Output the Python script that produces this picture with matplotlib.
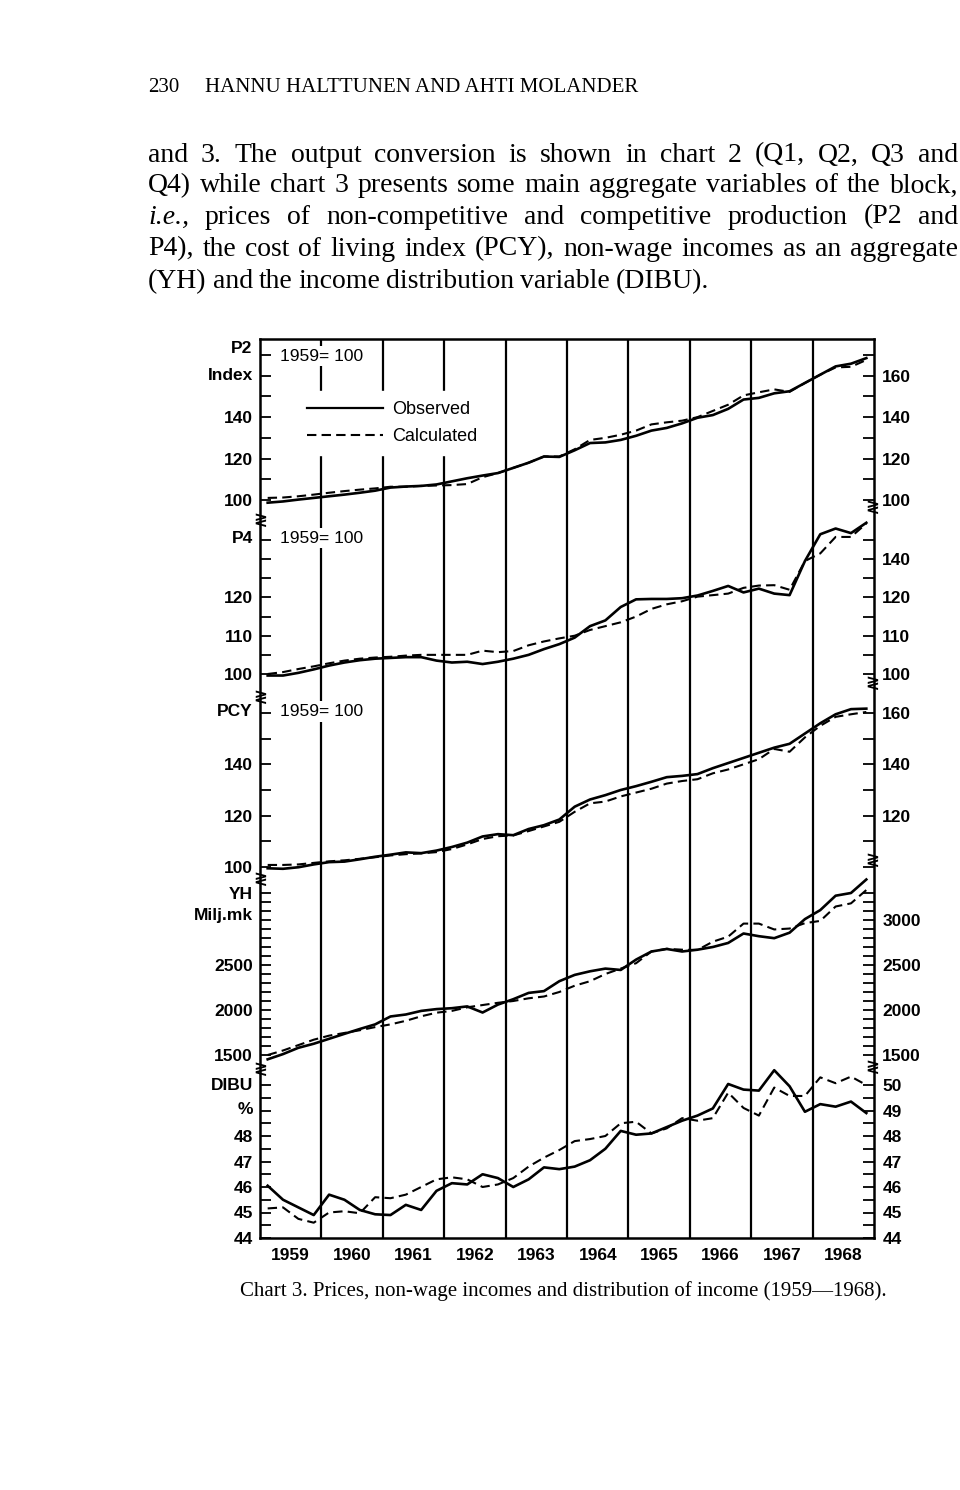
import matplotlib.pyplot as plt
from matplotlib.lines import Line2D
import numpy as np

# quarterly data 1959Q1 .. 1968Q4
years = [1959, 1960, 1961, 1962, 1963, 1964, 1965, 1966, 1967, 1968]
quarters = [y + (q + 0.5) / 4 for y in years for q in range(4)]

p2_obs = [98.7, 99.3, 100.2, 101.0, 101.8, 102.6, 103.5, 104.5, 106.0, 106.5,
          106.8, 107.5, 109.0, 110.5, 111.8, 113.0, 115.5, 118.0, 121.0, 120.8,
          124.0, 127.5, 127.8, 129.0, 131.0, 133.5, 134.8, 137.0, 139.7, 141.0,
          144.0, 148.5, 149.3, 151.5, 152.5, 156.5, 160.5, 164.5, 165.8, 168.5]
p2_calc = [101.0, 101.2, 101.8, 102.6, 103.5, 104.3, 105.0, 105.6, 106.4, 106.4,
           106.8, 107.0, 107.2, 107.7, 111.0, 113.0, 115.5, 118.0, 121.0, 121.0,
           124.5, 129.0, 130.0, 131.5, 133.5, 136.5, 137.5, 138.3, 140.0, 143.0,
           146.0, 150.5, 152.0, 153.4, 152.2, 156.5, 160.5, 164.0, 164.3, 167.6]

p4_obs = [99.6, 99.6, 100.3, 101.2, 102.2, 103.0, 103.6, 104.0, 104.2, 104.4,
          104.4, 103.5, 103.0, 103.2, 102.6, 103.2, 104.0, 105.0, 106.5, 107.8,
          109.5, 112.5, 114.0, 117.5, 119.5, 119.6, 119.6, 119.8, 120.5, 121.7,
          123.0, 121.3, 122.3, 121.0, 120.6, 129.5, 136.5, 138.0, 136.8, 139.5]
p4_calc = [100.0, 100.5, 101.3, 102.0, 102.8, 103.5, 104.0, 104.3, 104.5, 104.8,
           105.0, 105.0, 105.0, 105.0, 106.1, 105.7, 106.0, 107.5, 108.5, 109.3,
           110.0, 111.5, 112.5, 113.5, 115.0, 117.0, 118.2, 119.0, 120.2, 120.6,
           121.0, 122.5, 123.1, 123.2, 122.0, 129.5, 131.5, 135.8, 135.8, 139.3]

pcy_obs = [99.5, 99.3, 99.9, 101.0, 101.9, 102.1, 103.0, 104.0, 104.8, 105.7,
           105.4, 106.4, 107.8, 109.5, 111.9, 112.8, 112.4, 114.8, 116.3, 118.5,
           123.5, 126.3, 128.0, 130.0, 131.5, 133.2, 135.0, 135.5, 136.2, 138.5,
           140.5, 142.5, 144.5, 146.5, 148.0, 152.0, 156.0, 159.5, 161.5, 161.7]
pcy_calc = [100.8, 100.8, 101.0, 101.6, 102.2, 102.6, 103.2, 103.8, 104.5, 105.0,
            105.3, 105.8, 107.0, 108.8, 110.9, 112.0, 112.3, 114.0, 115.8, 117.6,
            121.5, 124.8, 125.5, 127.5, 129.0, 130.5, 132.5, 133.5, 134.2, 136.5,
            138.0, 140.0, 142.0, 146.0, 144.9, 150.5, 155.0, 158.5, 159.5, 160.4]

yh_obs = [1452, 1510, 1580, 1625, 1680, 1735, 1789, 1840, 1928, 1950,
          1990, 2010, 2020, 2040, 1972, 2060, 2120, 2190, 2210, 2320,
          2390, 2430, 2460, 2445, 2560, 2650, 2678, 2650, 2670, 2700,
          2745, 2850, 2820, 2798, 2859, 3010, 3110, 3270, 3300, 3450]
yh_calc = [1500, 1550, 1610, 1670, 1715, 1745, 1775, 1810, 1840, 1880,
           1930, 1970, 1990, 2030, 2055, 2080, 2100, 2130, 2150, 2200,
           2270, 2320, 2400, 2460, 2520, 2650, 2680, 2670, 2667, 2759,
           2815, 2960, 2960, 2895, 2905, 2965, 2990, 3150, 3185, 3333]

dibu_obs = [46.05, 45.5, 45.2, 44.9, 45.7, 45.5, 45.1, 44.93, 44.9, 45.3,
            45.1, 45.85, 46.15, 46.1, 46.5, 46.35, 46.0, 46.3, 46.77, 46.7,
            46.8, 47.05, 47.5, 48.2, 48.05, 48.1, 48.35, 48.6, 48.8, 49.08,
            50.04, 49.82, 49.78, 50.58, 49.95, 48.95, 49.25, 49.15, 49.35, 48.9]
dibu_calc = [45.16, 45.2, 44.75, 44.6, 45.0, 45.05, 44.97, 45.6, 45.56, 45.7,
             46.0, 46.3, 46.38, 46.3, 46.0, 46.1, 46.35, 46.8, 47.15, 47.45,
             47.8, 47.88, 48.0, 48.5, 48.56, 48.1, 48.3, 48.7, 48.6, 48.7,
             49.7, 49.1, 48.8, 49.9, 49.57, 49.57, 50.3, 50.07, 50.33, 50.0]

W, H = 960, 1490
fig = plt.figure(figsize=(W / 100, H / 100), dpi=100)
SANS = "Liberation Sans"
SERIF = "Liberation Serif"
TICKFONT = dict(family=SANS, weight="bold", size=12.5)


def px_axes(x0, y0, x1, y1):
    return fig.add_axes([x0 / W, 1 - y1 / H, (x1 - x0) / W, (y1 - y0) / H])


X0, X1 = 260, 874

# outer frame with year grid
frame = px_axes(X0, 339, X1, 1238)
frame.set_xlim(1959, 1969)
frame.set_ylim(0, 1)
frame.set_yticks([])
frame.set_xticks([y + 0.5 for y in years], [str(y) for y in years])
frame.tick_params(axis="x", length=0, pad=7)
for lab in frame.get_xticklabels():
    lab.set(**TICKFONT)
for y in years[1:]:
    frame.axvline(y, color="black", lw=1.6)
for s in frame.spines.values():
    s.set_linewidth(1.8)


def panel(top, bottom, lo, hi, obs, calc, lticks, llabels, rticks, rlabels):
    ax = px_axes(X0, top, X1, bottom)
    ax.patch.set_alpha(0)
    ax.set_xlim(1959, 1969)
    ax.set_ylim(lo, hi)
    for s in ax.spines.values():
        s.set_visible(False)
    ax.set_xticks([])
    ax.set_yticks(lticks, llabels)
    ax.tick_params(axis="y", direction="in", length=8, width=1.3, pad=5)
    for lab in ax.get_yticklabels():
        lab.set(**TICKFONT)
    sec = ax.secondary_yaxis("right")
    sec.spines["right"].set_visible(False)
    sec.set_yticks(rticks, rlabels)
    sec.tick_params(axis="y", direction="in", length=8, width=1.3, pad=6)
    for lab in sec.get_yticklabels():
        lab.set(**TICKFONT)
    ax.plot(quarters, obs, color="black", lw=1.9, clip_on=False)
    ax.plot(quarters, calc, color="black", lw=1.5, ls=(0, (4.5, 2.5)), clip_on=False)
    return ax


def lab(vals, shown):
    return [str(v) if v in shown else "" for v in vals]


def side_text(ax, y, s):
    ax.text(-0.012, y, s, transform=ax.get_yaxis_transform(), ha="right",
            va="center", **TICKFONT)


def base_text(ax, y):
    ax.text(0.033, y, "1959= 100", transform=ax.get_yaxis_transform(), ha="left",
            va="center", family=SANS, size=12.5,
            bbox=dict(facecolor="white", edgecolor="none", pad=2))


t = list(range(100, 171, 10))
ax_p2 = panel(355, 500, 100, 170, p2_obs, p2_calc, t, lab(t, [100, 120, 140]),
              t, lab(t, [100, 120, 140, 160]))
side_text(ax_p2, 173, "P2")
side_text(ax_p2, 160, "Index")
base_text(ax_p2, 169.5)
handles = [Line2D([], [], color="black", lw=1.6),
           Line2D([], [], color="black", lw=1.5, ls=(0, (4.5, 2.5)))]
leg = ax_p2.legend(handles, ["Observed", "Calculated"], loc="upper left",
                   bbox_to_anchor=(288 / W, 1 - 382 / H),
                   bbox_transform=fig.transFigure, frameon=True, fancybox=False,
                   framealpha=1, edgecolor="white", handlelength=4.2,
                   handletextpad=0.5, labelspacing=0.55, borderpad=0.55,
                   prop=dict(family=SANS, size=13))

t = list(range(100, 136, 5))
rl = ["100", "", "110", "", "120", "", "140", ""]
ax_p4 = panel(540, 674, 100, 135, p4_obs, p4_calc, t, lab(t, [100, 110, 120]), t, rl)
side_text(ax_p4, 135.5, "P4")
base_text(ax_p4, 135.5)

t = list(range(100, 161, 10))
ax_pcy = panel(713, 867, 100, 160, pcy_obs, pcy_calc, t, lab(t, [100, 120, 140]),
               t, lab(t, [120, 140, 160]))
side_text(ax_pcy, 160.5, "PCY")
base_text(ax_pcy, 160.5)

t = list(range(1500, 3301, 100))
ax_yh = panel(893, 1055, 1500, 3300, yh_obs, yh_calc, t, lab(t, [1500, 2000, 2500]),
              t, lab(t, [1500, 2000, 2500, 3000]))
side_text(ax_yh, 3280, "YH")
side_text(ax_yh, 3045, "Milj.mk")

t = [44 + 0.5 * k for k in range(13)]
ax_dibu = panel(1085, 1238, 44, 50, dibu_obs, dibu_calc, t,
                [str(int(v)) if v in (44, 45, 46, 47, 48) else "" for v in t],
                t, [str(int(v)) if v == int(v) else "" for v in t])
side_text(ax_dibu, 49.97, "DIBU")
side_text(ax_dibu, 49.05, "%")

# scale-break marks on the two axes
for xp, yp in [(X0, 520), (X0, 697), (X0, 879), (X0, 1069),
               (X1 - 2, 507), (X1 - 2, 683), (X1 - 2, 860), (X1 - 2, 1067)]:
    fig.text(xp / W, 1 - yp / H, "≷", ha="center", va="center", size=12,
             weight="bold", family="DejaVu Sans")

# page text
fig.text(148 / W, 1 - 88 / H, "230", family=SERIF, size=15, va="center")
fig.text(205 / W, 1 - 88 / H, "HANNU HALTTUNEN AND AHTI MOLANDER", family=SERIF,
         size=15, va="center")

body = [
    ("and 3. The output conversion is shown in chart 2 (Q1, Q2, Q3 and", 155, True),
    ("Q4) while chart 3 presents some main aggregate variables of the block,", 186, True),
    ("i.e., prices of non-competitive and competitive production (P2 and", 217, True),
    ("P4), the cost of living index (PCY), non-wage incomes as an aggregate", 249, True),
    ("(YH) and the income distribution variable (DIBU).", 282, False),
]
renderer = fig.canvas.get_renderer()
for line, yp, justify in body:
    words = line.split()
    items = []
    for w in words:
        style = "italic" if w == "i.e.," else "normal"
        items.append(fig.text(0, 1 - yp / H, w, family=SERIF, size=20,
                              style=style, va="center"))
    widths = [it.get_window_extent(renderer).width for it in items]
    space = 6.0
    if justify:
        space = max(2.0, (958 - 148 - sum(widths)) / (len(words) - 1))
    xp = 148
    for it, wd in zip(items, widths):
        it.set_x(xp / W)
        xp += wd + space

fig.text(240 / W, 1 - 1291 / H,
         "Chart 3. Prices, non-wage incomes and distribution of income (1959\u20141968).",
         family=SERIF, size=15, va="center")

fig.savefig("out.png", dpi=100, facecolor="white")
